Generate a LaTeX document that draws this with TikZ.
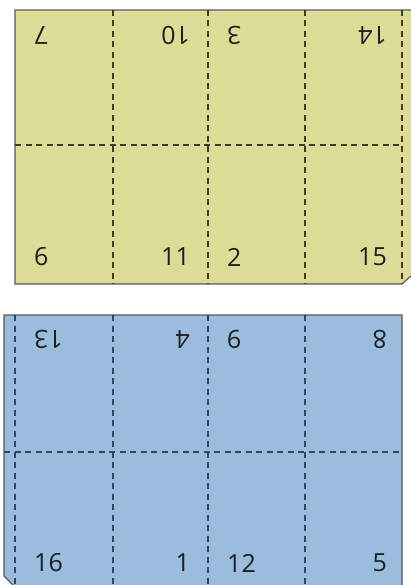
\documentclass[tikz,border=0pt]{standalone}
\usepackage{fontspec}
\setmainfont{Open Sans}
\usepackage{tikz}
\definecolor{sheetyellow}{RGB}{221,220,150}
\definecolor{sheetblue}{RGB}{154,189,222}
\definecolor{sheetedge}{RGB}{88,88,88}
\definecolor{foldyellow}{RGB}{60,60,40}
\definecolor{foldblue}{RGB}{45,72,100}
\definecolor{numtext}{RGB}{30,30,30}

\begin{document}
\begin{tikzpicture}[x=1pt, y=-1pt,
    sheet/.style={draw=sheetedge, line width=1.2pt, line join=miter},
    fold/.style={line width=1.3pt, dash pattern=on 6pt off 4.5pt},
    num/.style={inner sep=0pt, text=numtext, font=\fontsize{25}{28}\selectfont},
    flip/.style={num, rotate=180}]
    \useasboundingbox (0,0) rectangle (411,585);

    % Yellow sheet
    \fill[sheetyellow] (15,10) -- (411,10) -- (411,276) -- (402,284) -- (15,284) -- cycle;
    \draw[sheet] (411,10) -- (15,10) -- (15,284) -- (402,284) -- (411,276);
    \draw[fold, draw=foldyellow] (113,10) -- (113,284);
    \draw[fold, draw=foldyellow] (208,10) -- (208,284);
    \draw[fold, draw=foldyellow] (305,10) -- (305,284);
    \draw[fold, draw=foldyellow] (402,10) -- (402,284);
    \draw[fold, draw=foldyellow] (15,145) -- (402,145);

    \node[flip, anchor=east] (y7) at (34,35) {7};
    \node[flip, anchor=west] (y10) at (190,35) {10};
    \node[flip, anchor=east] (y3) at (227,35) {3};
    \node[flip, anchor=west] (y14) at (387,35) {14};
    \node[num, anchor=west] (y6) at (34,257) {6};
    \node[num, anchor=east] (y11) at (190,257) {11};
    \node[num, anchor=west] (y2) at (227,257) {2};
    \node[num, anchor=east] (y15) at (387,257) {15};

    % Blue sheet
    \fill[sheetblue] (4,315) -- (402,315) -- (402,585) -- (13,585) -- (4,576) -- cycle;
    \draw[sheet] (13,585) -- (4,576) -- (4,315) -- (402,315) -- (402,585);
    \draw[fold, draw=foldblue] (15,315) -- (15,585);
    \draw[fold, draw=foldblue] (113,315) -- (113,585);
    \draw[fold, draw=foldblue] (208,315) -- (208,585);
    \draw[fold, draw=foldblue] (305,315) -- (305,585);
    \draw[fold, draw=foldblue] (4,452) -- (402,452);

    \node[flip, anchor=east] (b13) at (34,339) {13};
    \node[flip, anchor=west] (b4) at (190,339) {4};
    \node[flip, anchor=east] (b9) at (227,339) {9};
    \node[flip, anchor=west] (b8) at (387,339) {8};
    \node[num, anchor=west] (b16) at (34,563) {16};
    \node[num, anchor=east] (b1) at (190,563) {1};
    \node[num, anchor=west] (b12) at (227,563) {12};
    \node[num, anchor=east] (b5) at (387,563) {5};

\end{tikzpicture}
\end{document}
